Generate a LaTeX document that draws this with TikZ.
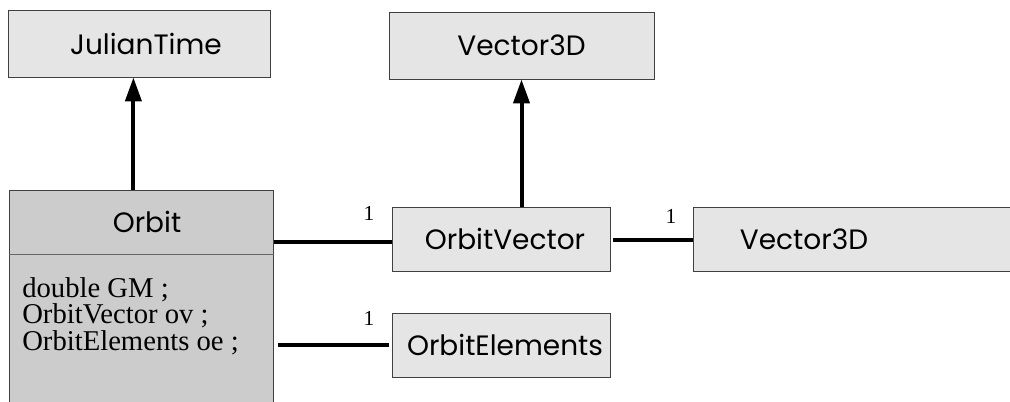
\documentclass[tikz,border=0pt]{standalone}
\usepackage{fontspec}
\setmainfont{Liberation Serif}
\newfontfamily\titlefont{Poppins}
\usetikzlibrary{arrows.meta,calc}
\tikzset{
  titletext/.style={font=\titlefont\fontsize{21}{24}\selectfont},
  classbox/.style={draw=black!75, line width=0.6pt, fill=black!10, inner sep=0pt, titletext},
  mainbox/.style={classbox, fill=black!20},
  link/.style={line width=3pt, black},
  inherit/.style={link, -{Triangle[length=18pt,width=12pt]}},
  mult/.style={font=\fontsize{16}{18}\selectfont, inner sep=0pt},
  attr/.style={font=\fontsize{21.5}{20}\selectfont, align=left, inner sep=0pt, anchor=north west}
}
\begin{document}
\begin{tikzpicture}[x=0.75pt, y=-0.75pt]
  \useasboundingbox (0,0) rectangle (1010,401);

  % classes
  \node[classbox, minimum width=262*0.75pt, minimum height=67*0.75pt] (jt) at (139,43.5) {};
  \node[titletext] (jtlabel) at (146,43.5) {JulianTime};
  \node[classbox, minimum width=265*0.75pt, minimum height=67*0.75pt] (vtop) at (521.5,45.5) {Vector3D};
  \node[mainbox, minimum width=264*0.75pt, minimum height=230*0.75pt, anchor=north west] (orbit) at (9,190) {};
  \node[classbox, minimum width=218*0.75pt, minimum height=64*0.75pt] (ov) at (501,239) {};
  \node[titletext] (ovlabel) at (505,239) {OrbitVector};
  \node[classbox, minimum width=330*0.75pt, minimum height=64*0.75pt, anchor=west] (vright) at (693,239) {};
  \node[titletext] (vrightlabel) at (804,239) {Vector3D};
  \node[classbox, minimum width=218*0.75pt, minimum height=64*0.75pt] (oe) at (501,345) {};
  \node[titletext] (oelabel) at (505,345) {OrbitElements};

  % Orbit compartments
  \draw[draw=black!60, line width=0.6pt] (orbit.north west) ++(0,64) coordinate (divl) -- (divl -| orbit.east);
  \node[titletext] (otitle) at (147,222) {Orbit};
  \node[attr] (oattr) at (22,277) {double GM ;\\OrbitVector ov ;\\OrbitElements oe ;};

  % generalisations
  \draw[inherit] ([xshift=-6pt]orbit.north) -- ([xshift=-6pt]orbit.north |- jt.south);
  \draw[inherit] (vtop.south |- ov.north) -- (vtop.south);

  % associations
  \draw[link] (orbit.east |- ov.west) ++(0,3) coordinate (a1) -- (a1 -| ov.west);
  \node[mult] (m1) at (369,213) {1};
  \draw[link] (ov.east) ++(3,1) coordinate (a2) -- (a2 -| vright.west);
  \node[mult] (m2) at (671,216) {1};
  \draw[link] (orbit.east |- oe.west) ++(4,0) coordinate (a3) -- ([xshift=-2pt]a3 -| oe.west);
  \node[mult] (m3) at (369,318) {1};
\end{tikzpicture}
\end{document}
